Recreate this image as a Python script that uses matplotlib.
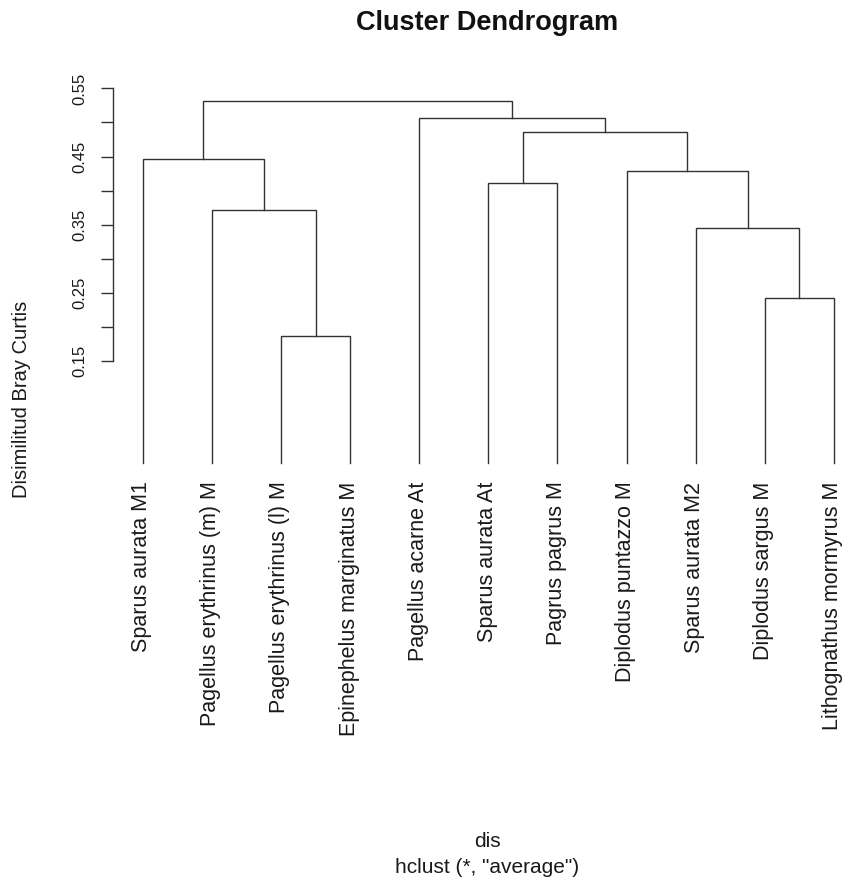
import matplotlib
matplotlib.use('Agg')
import matplotlib.pyplot as plt

plt.rcParams['font.family'] = ['Liberation Sans', 'DejaVu Sans']

# ── datos del dendrograma (hclust, método "average") ─────────────────────────
labels = [
    'Sparus aurata M1', 'Pagellus erythrinus (m) M', 'Pagellus erythrinus (l) M',
    'Epinephelus marginatus M', 'Pagellus acarne At', 'Sparus aurata At',
    'Pagrus pagrus M', 'Diplodus puntazzo M', 'Sparus aurata M2',
    'Diplodus sargus M', 'Lithognathus mormyrus M',
]
# negativos = hoja (posición en el orden), positivos = fusión previa
merge_a = [-3, -10, -9, -2, -6, -8, -1, 5, -5, 7]
merge_b = [-4, -11, 2, 1, -7, 3, 4, 6, 8, 9]
heights = [0.187, 0.243, 0.346, 0.371, 0.412, 0.429, 0.447, 0.486, 0.507, 0.531]

yticks = [0.15, 0.20, 0.25, 0.30, 0.35, 0.40, 0.45, 0.50, 0.55]
ytick_labels = ['0.15', '', '0.25', '', '0.35', '', '0.45', '', '0.55']

W, H, DPI = 843, 880, 100
LINE = '#333333'

fig = plt.figure(figsize=(W / DPI, H / DPI), dpi=DPI, facecolor='white')

# ejes en píxeles: hoja 1 en x=142.7, paso 69.13 px; y=0 en 463.5 px, 682 px por unidad
STEP, X0 = 69.13, 142.7
Y0, SCALE = 463.5, 682.0
ax_l, ax_r = 113.3, 843.0
ax_t, ax_b = 75.0, 470.0
ax = fig.add_axes([ax_l / W, 1 - ax_b / H, (ax_r - ax_l) / W, (ax_b - ax_t) / H])
ax.set_xlim(1 + (ax_l - X0) / STEP, 1 + (ax_r - X0) / STEP)
ax.set_ylim((Y0 - ax_b) / SCALE, (Y0 - ax_t) / SCALE)


def node(ref, xs, hs):
    if ref < 0:
        return -ref, 0.0
    return xs[ref - 1], hs[ref - 1]


xs, hs = [], []
for a, b, h in zip(merge_a, merge_b, heights):
    xa, ha = node(a, xs, hs)
    xb, hb = node(b, xs, hs)
    ax.plot([xa, xa, xb, xb], [ha, h, h, hb], color=LINE, lw=1.0,
            solid_joinstyle='miter', clip_on=False)
    xs.append((xa + xb) / 2)
    hs.append(h)

for i, lab in enumerate(labels, start=1):
    ax.annotate(lab, xy=(i, 0), xytext=(3.2, -13), textcoords='offset points',
                rotation=90, rotation_mode='anchor', ha='right', va='baseline',
                fontsize=15.5, color='#1a1a1a', annotation_clip=False)

# eje Y estilo R: sólo la línea izquierda entre 0.15 y 0.55
for side in ('top', 'right', 'bottom'):
    ax.spines[side].set_visible(False)
ax.spines['left'].set_bounds(0.15, 0.55)
ax.spines['left'].set_color(LINE)
ax.spines['left'].set_linewidth(1.0)
ax.set_xticks([])
ax.set_yticks(yticks)
ax.set_yticklabels(ytick_labels, rotation=90, va='center')
ax.tick_params(axis='y', length=8.4, width=1.0, color=LINE, pad=10,
               labelsize=12, labelcolor='#1a1a1a')
ax.patch.set_visible(False)

fig.text(487 / W, 1 - 23 / H, 'Cluster Dendrogram', ha='center', va='center',
         fontsize=19.5, fontweight='bold', color='#111111')
fig.text(22 / W, 1 - 399 / H, 'Disimilitud Bray Curtis', ha='center', va='center',
         rotation=90, fontsize=14.5, color='#1a1a1a')
fig.text(487 / W, 1 - 847 / H, 'dis', ha='center', va='baseline',
         fontsize=15, color='#1a1a1a')
fig.text(487 / W, 1 - 873 / H, 'hclust (*, "average")', ha='center', va='baseline',
         fontsize=15, color='#1a1a1a')

fig.savefig('out.png', dpi=DPI, facecolor='white')
